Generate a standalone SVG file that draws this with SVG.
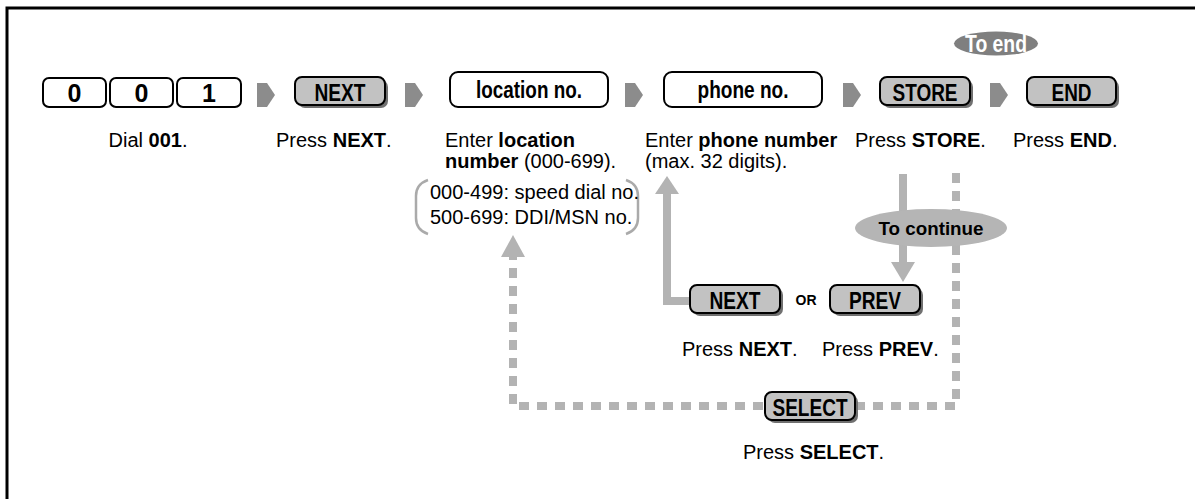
<svg xmlns="http://www.w3.org/2000/svg" width="1195" height="499" viewBox="0 0 1195 499">
<style>
.lbl{font-family:"Liberation Sans",Arial,sans-serif;font-size:20px;fill:#000}
.b{font-weight:bold}
.key{font-family:"Liberation Sans",Arial,sans-serif;font-weight:bold;font-size:24px;text-anchor:middle;fill:#000}
.dig{font-size:25px}
.small{font-size:14px}
.cont{font-size:19px}
.white{fill:#fff}
.wbox{fill:#fff;stroke:#000;stroke-width:2}
.gbtn{fill:#c2c2c2;stroke:#000;stroke-width:2}
.shadow{fill:#707070}
.step{fill:#8c8c8c}
.conn{fill:none;stroke:#b3b3b3;stroke-width:8}
.dash{stroke-dasharray:10 8}
.head{fill:#b3b3b3}
.brk{fill:none;stroke:#aaaaaa;stroke-width:2.5}
</style>
<path d="M7,499 V8 H1195" fill="none" stroke="#000" stroke-width="3"/>

<g id="connectors">
  <polygon class="step" points="257,83 267,83 275,95 267,107 257,107"/>
  <polygon class="step" points="405,83 415,83 423,95 415,107 405,107"/>
  <polygon class="step" points="625,83 635,83 643,95 635,107 625,107"/>
  <polygon class="step" points="843,83 853,83 861,95 853,107 843,107"/>
  <polygon class="step" points="990,83 1000,83 1008,95 1000,107 990,107"/>
  <path class="conn" d="M690,301 H667 V193"/>
  <polygon class="head" points="655,194 679,194 667,176"/>
  <path class="conn" d="M903,174 V263"/>
  <polygon class="head" points="891,262 915,262 903,282"/>
  <path class="conn dash" d="M956,173 V406 H858"/>
  <path class="conn dash" d="M763,406 H513 V257"/>
  <polygon class="head" points="501,257 525,257 513,235"/>
</g>

<g id="dial">
  <rect class="wbox" x="43" y="78" width="63" height="29" rx="6"/>
  <rect class="wbox" x="110" y="78" width="63" height="29" rx="6"/>
  <rect class="wbox" x="177" y="78" width="64" height="29" rx="6"/>
  <text class="key dig" x="74.5" y="102">0</text>
  <text class="key dig" x="141.5" y="102">0</text>
  <text class="key dig" x="209" y="102">1</text>
  <text class="lbl" x="148" y="147" text-anchor="middle">Dial <tspan class="b">001</tspan>.</text>
</g>

<g id="next1">
  <rect class="shadow" x="298" y="80" width="90" height="28" rx="7"/>
  <rect class="gbtn" x="295" y="77" width="90" height="28" rx="7"/>
  <text class="key" x="340" y="100.5" textLength="51" lengthAdjust="spacingAndGlyphs">NEXT</text>
  <text class="lbl" x="276" y="147">Press <tspan class="b">NEXT</tspan>.</text>
</g>

<g id="location">
  <rect class="wbox" x="450" y="72" width="158" height="35" rx="8"/>
  <text class="key" x="529" y="98" textLength="106" lengthAdjust="spacingAndGlyphs">location no.</text>
  <text class="lbl" x="445" y="147">Enter <tspan class="b">location</tspan></text>
  <text class="lbl" x="445" y="168"><tspan class="b">number</tspan> (000-699).</text>
  <path class="brk" d="M428,180 Q416,184 416,196 V218 Q416,230 428,234"/>
  <path class="brk" d="M626,180 Q638,184 638,196 V218 Q638,230 626,234"/>
  <text class="lbl" x="430" y="199">000-499: speed dial no.</text>
  <text class="lbl" x="430" y="224">500-699: DDI/MSN no.</text>
</g>

<g id="phone">
  <rect class="wbox" x="664" y="72" width="158" height="35" rx="8"/>
  <text class="key" x="743" y="98" textLength="91" lengthAdjust="spacingAndGlyphs">phone no.</text>
  <text class="lbl" x="645" y="147">Enter <tspan class="b">phone number</tspan></text>
  <text class="lbl" x="645" y="168">(max. 32 digits).</text>
</g>

<g id="store">
  <rect class="shadow" x="883" y="80" width="90" height="28" rx="7"/>
  <rect class="gbtn" x="880" y="77" width="90" height="28" rx="7"/>
  <text class="key" x="925" y="100.5" textLength="65" lengthAdjust="spacingAndGlyphs">STORE</text>
  <text class="lbl" x="855" y="147">Press <tspan class="b">STORE</tspan>.</text>
</g>

<g id="toend">
  <ellipse cx="996" cy="43.5" rx="42" ry="12" fill="#7f7f7f"/>
  <text class="key white" x="996" y="52" textLength="62" lengthAdjust="spacingAndGlyphs">To end</text>
</g>

<g id="end">
  <rect class="shadow" x="1030" y="80" width="89" height="28" rx="7"/>
  <rect class="gbtn" x="1027" y="77" width="89" height="28" rx="7"/>
  <text class="key" x="1071.5" y="100.5" textLength="40" lengthAdjust="spacingAndGlyphs">END</text>
  <text class="lbl" x="1013" y="147">Press <tspan class="b">END</tspan>.</text>
</g>

<g id="tocontinue">
  <ellipse cx="931" cy="228" rx="76" ry="19" fill="#b5b5b5"/>
  <text class="key cont" x="931" y="235" textLength="105" lengthAdjust="spacingAndGlyphs">To continue</text>
</g>

<g id="next2">
  <rect class="shadow" x="693" y="288" width="90" height="28" rx="7"/>
  <rect class="gbtn" x="690" y="285" width="90" height="28" rx="7"/>
  <text class="key" x="735" y="308.5" textLength="51" lengthAdjust="spacingAndGlyphs">NEXT</text>
  <text class="lbl" x="682" y="356">Press <tspan class="b">NEXT</tspan>.</text>
</g>

<g id="or">
  <text class="key small" x="806" y="305">OR</text>
</g>

<g id="prev">
  <rect class="shadow" x="833" y="288" width="90" height="28" rx="7"/>
  <rect class="gbtn" x="830" y="285" width="90" height="28" rx="7"/>
  <text class="key" x="875" y="308.5" textLength="52" lengthAdjust="spacingAndGlyphs">PREV</text>
  <text class="lbl" x="822" y="356">Press <tspan class="b">PREV</tspan>.</text>
</g>

<g id="select">
  <rect class="shadow" x="768" y="395" width="90" height="28" rx="7"/>
  <rect class="gbtn" x="765" y="392" width="90" height="28" rx="7"/>
  <text class="key" x="810" y="415.5" textLength="75" lengthAdjust="spacingAndGlyphs">SELECT</text>
  <text class="lbl" x="743" y="459">Press <tspan class="b">SELECT</tspan>.</text>
</g>
</svg>
